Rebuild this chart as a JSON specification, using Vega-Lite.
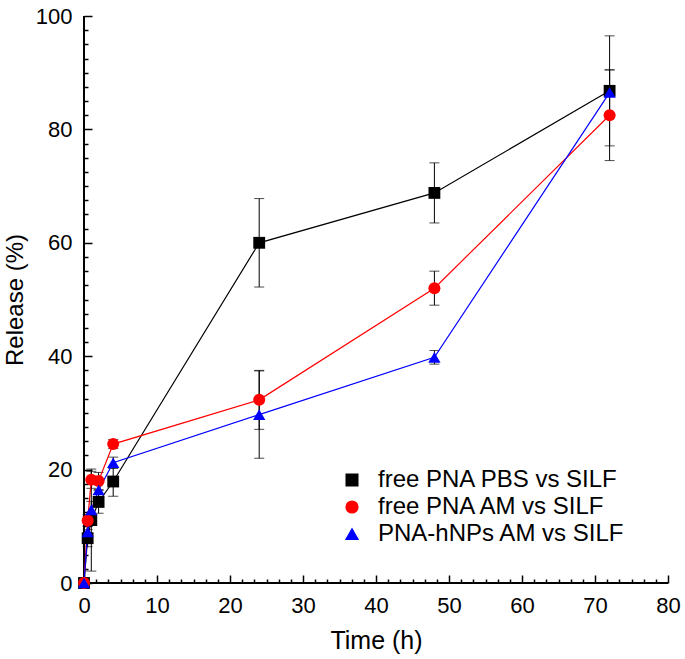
{
  "$schema": "https://vega.github.io/schema/vega-lite/v6.json",
  "width": 584,
  "height": 567,
  "autosize": "none",
  "padding": {"left": 84, "top": 16, "right": 17, "bottom": 76},
  "background": "white",
  "config": {
    "view": {"stroke": null},
    "font": "Liberation Sans",
    "axis": {"grid": false, "domainColor": "black", "domainWidth": 2, "tickColor": "black", "labelColor": "black", "titleColor": "black", "labelFont": "Liberation Sans", "titleFont": "Liberation Sans", "titleFontWeight": "normal", "labelFlush": false, "labelOverlap": false}
  },
  "datasets": {
    "rel": [
      {"series": "free PNA PBS vs SILF", "t": 0, "y": 0, "err": 0},
      {"series": "free PNA PBS vs SILF", "t": 0.5, "y": 7.9, "err": 1.5},
      {"series": "free PNA PBS vs SILF", "t": 1, "y": 11.1, "err": 9},
      {"series": "free PNA PBS vs SILF", "t": 2, "y": 14.3, "err": 2},
      {"series": "free PNA PBS vs SILF", "t": 4, "y": 17.9, "err": 2.6},
      {"series": "free PNA PBS vs SILF", "t": 24, "y": 60, "err": 7.8},
      {"series": "free PNA PBS vs SILF", "t": 48, "y": 68.8, "err": 5.3},
      {"series": "free PNA PBS vs SILF", "t": 72, "y": 86.8, "err": 9.7},
      {"series": "free PNA AM vs SILF", "t": 0, "y": 0, "err": 0},
      {"series": "free PNA AM vs SILF", "t": 0.5, "y": 11, "err": 1},
      {"series": "free PNA AM vs SILF", "t": 1, "y": 18.2, "err": 1.5},
      {"series": "free PNA AM vs SILF", "t": 2, "y": 18, "err": 1.5},
      {"series": "free PNA AM vs SILF", "t": 4, "y": 24.5, "err": 0.8},
      {"series": "free PNA AM vs SILF", "t": 24, "y": 32.3, "err": 5.2},
      {"series": "free PNA AM vs SILF", "t": 48, "y": 52, "err": 3},
      {"series": "free PNA AM vs SILF", "t": 72, "y": 82.5, "err": 8},
      {"series": "PNA-hNPs AM vs SILF", "t": 0, "y": 0, "err": 0},
      {"series": "PNA-hNPs AM vs SILF", "t": 0.5, "y": 9, "err": 1},
      {"series": "PNA-hNPs AM vs SILF", "t": 1, "y": 12.9, "err": 1.5},
      {"series": "PNA-hNPs AM vs SILF", "t": 2, "y": 16.4, "err": 1.5},
      {"series": "PNA-hNPs AM vs SILF", "t": 4, "y": 21.2, "err": 1},
      {"series": "PNA-hNPs AM vs SILF", "t": 24, "y": 29.7, "err": 7.7},
      {"series": "PNA-hNPs AM vs SILF", "t": 48, "y": 39.8, "err": 1.2},
      {"series": "PNA-hNPs AM vs SILF", "t": 72, "y": 86.5, "err": 4}
    ]
  },
  "data": {"name": "rel"},
  "transform": [
    {"calculate": "datum.y - datum.err", "as": "lo"},
    {"calculate": "datum.y + datum.err", "as": "hi"}
  ],
  "encoding": {
    "x": {"field": "t", "type": "quantitative", "scale": {"domain": [0, 80], "nice": false, "zero": false}, "axis": null},
    "y": {"field": "y", "type": "quantitative", "scale": {"domain": [0, 100], "nice": false}, "axis": null}
  },
  "layer": [
    {
      "mark": {"type": "rule", "color": "black", "strokeWidth": 1},
      "encoding": {
        "y": {"field": "lo", "type": "quantitative", "axis": {"orient": "left", "values": [2.5, 5, 7.5, 10, 12.5, 15, 17.5, 22.5, 25, 27.5, 30, 32.5, 35, 37.5, 42.5, 45, 47.5, 50, 52.5, 55, 57.5, 62.5, 65, 67.5, 70, 72.5, 75, 77.5, 82.5, 85, 87.5, 90, 92.5, 95, 97.5], "labels": false, "ticks": true, "tickSize": 4, "offset": -4, "tickWidth": 1.5, "title": null, "domain": false}},
        "x": {"field": "t", "type": "quantitative", "axis": {"orient": "bottom", "values": [1.6667, 3.3333, 5, 6.6667, 8.3333, 11.6667, 13.3333, 15, 16.6667, 18.3333, 21.6667, 23.3333, 25, 26.6667, 28.3333, 31.6667, 33.3333, 35, 36.6667, 38.3333, 41.6667, 43.3333, 45, 46.6667, 48.3333, 51.6667, 53.3333, 55, 56.6667, 58.3333, 61.6667, 63.3333, 65, 66.6667, 68.3333, 71.6667, 73.3333, 75, 76.6667, 78.3333], "labels": false, "ticks": true, "tickSize": 4, "offset": -4, "tickWidth": 1.5, "title": null, "domain": false}},
        "y2": {"field": "hi"}, "detail": {"field": "series"}}
    },
    {
      "mark": {"type": "tick", "orient": "horizontal", "color": "black", "thickness": 1, "size": 10},
      "encoding": {"y": {"field": "lo", "type": "quantitative", "axis": null}, "detail": {"field": "series"}}
    },
    {
      "mark": {"type": "tick", "orient": "horizontal", "color": "black", "thickness": 1, "size": 10},
      "encoding": {
        "y": {"field": "hi", "type": "quantitative", "axis": {"orient": "left", "values": [0, 20, 40, 60, 80, 100], "ticks": true, "tickSize": 8, "offset": -8, "tickWidth": 1.5, "domain": false, "labelFontSize": 22, "labelPadding": 12, "title": "Release (%)", "titleFontSize": 24, "titlePadding": 8}},
        "x": {"field": "t", "type": "quantitative", "axis": {"orient": "bottom", "values": [0, 10, 20, 30, 40, 50, 60, 70, 80], "ticks": true, "tickSize": 8, "offset": -8, "tickWidth": 1.5, "domain": false, "labelFontSize": 22, "labelPadding": 12, "title": "Time (h)", "titleFontSize": 25, "titlePadding": 12}},
        "detail": {"field": "series"}}
    },
    {
      "mark": {"type": "rule", "color": "black", "strokeWidth": 2},
      "encoding": {"x": {"datum": 0, "type": "quantitative", "axis": null}, "x2": {"datum": 80}, "y": {"datum": 0, "type": "quantitative", "axis": null}}
    },
    {
      "mark": {"type": "rule", "color": "black", "strokeWidth": 2},
      "encoding": {"x": {"datum": 0, "type": "quantitative", "axis": null}, "y": {"datum": 0, "type": "quantitative", "axis": null}, "y2": {"datum": 100}}
    },
    {
      "mark": {"type": "line", "strokeWidth": 1.2},
      "encoding": {
        "color": {"field": "series", "type": "nominal", "scale": {"domain": ["free PNA PBS vs SILF", "free PNA AM vs SILF", "PNA-hNPs AM vs SILF"], "range": ["#000000", "#ff0000", "#0000ff"]}},
        "order": {"field": "t"}
      }
    },
    {
      "mark": {"type": "point", "filled": true, "opacity": 1},
      "encoding": {
        "color": {"field": "series", "type": "nominal", "scale": {"domain": ["free PNA PBS vs SILF", "free PNA AM vs SILF", "PNA-hNPs AM vs SILF"], "range": ["#000000", "#ff0000", "#0000ff"]},
          "legend": {"title": null, "orient": "none", "legendX": 256, "legendY": 452, "labelFontSize": 24, "labelColor": "black", "labelFont": "Liberation Sans", "labelLimit": 0, "labelOffset": 14, "rowPadding": 3, "symbolSize": 225, "symbolStrokeWidth": 1.2}},
        "shape": {"field": "series", "type": "nominal", "scale": {"domain": ["free PNA PBS vs SILF", "free PNA AM vs SILF", "PNA-hNPs AM vs SILF"], "range": ["square", "circle", "triangle-up"]}, "legend": null},
        "size": {"field": "series", "type": "nominal", "scale": {"domain": ["free PNA PBS vs SILF", "free PNA AM vs SILF", "PNA-hNPs AM vs SILF"], "range": [140, 150, 230]}, "legend": null}
      }
    }
  ],
  "resolve": {"axis": {"x": "independent", "y": "independent"}}
}
